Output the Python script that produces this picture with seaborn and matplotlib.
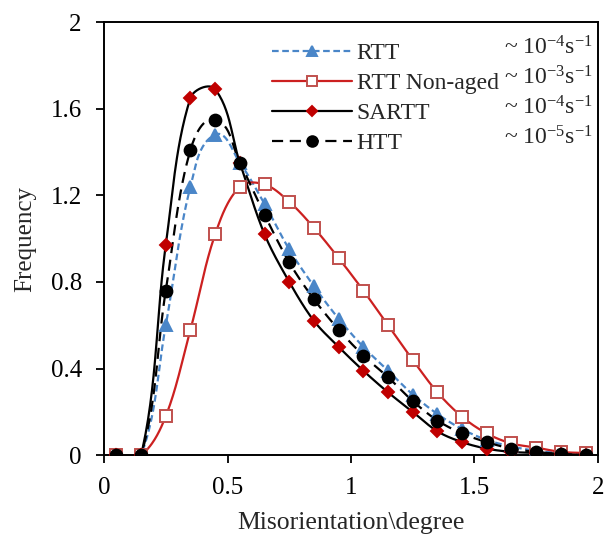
import numpy as np
import pandas as pd
import matplotlib
matplotlib.use("Agg")
import matplotlib.pyplot as plt
from matplotlib.lines import Line2D
import seaborn as sns

sns.set_theme(style="ticks")
plt.rcParams['font.family'] = ['Liberation Serif', 'DejaVu Serif']
plt.rcParams['mathtext.fontset'] = 'custom'
plt.rcParams['mathtext.rm'] = 'Liberation Serif'
plt.rcParams['mathtext.it'] = 'Liberation Serif:italic'

# ---- data ----
x = [0.05, 0.15, 0.25, 0.35, 0.45, 0.55, 0.65, 0.75, 0.85, 0.95,
     1.05, 1.15, 1.25, 1.35, 1.45, 1.55, 1.65, 1.75, 1.85, 1.95]
rtt = [0, 0, 0.60, 1.24, 1.48, 1.35, 1.16, 0.95, 0.78, 0.63,
       0.50, 0.39, 0.28, 0.19, 0.12, 0.07, 0.04, 0.02, 0.01, 0.005]
rtt_nonaged = [0, 0, 0.18, 0.58, 1.02, 1.24, 1.25, 1.17, 1.05, 0.91,
               0.76, 0.60, 0.44, 0.29, 0.177, 0.10, 0.054, 0.035, 0.015, 0.01]
sartt = [0, 0, 0.97, 1.65, 1.69, 1.35, 1.02, 0.80, 0.62, 0.50,
         0.39, 0.29, 0.20, 0.11, 0.06, 0.03, 0.015, 0.01, 0.005, 0.0]
htt = [0, 0, 0.76, 1.41, 1.55, 1.35, 1.11, 0.89, 0.72, 0.58,
       0.46, 0.36, 0.25, 0.16, 0.10, 0.06, 0.03, 0.015, 0.005, 0.0]
labels = ["RTT", "RTT Non-aged", "SARTT", "HTT"]
rates = ["-4", "-3", "-4", "-5"]
xticks = [0, 0.5, 1, 1.5, 2]
yticks = [0, 0.4, 0.8, 1.2, 1.6, 2]


def smooth(xs, ys, n=30, k=1/3, yscale=0.877):
    """Excel-like smoothed line rendering (Bezier through the data points)."""
    P = np.column_stack([np.asarray(xs, float), np.asarray(ys, float) * yscale])
    out = []
    m = len(P)
    for i in range(m - 1):
        p0, p1 = P[i], P[i + 1]
        prev = P[i - 1] if i > 0 else p0
        nxt = P[i + 2] if i + 2 < m else p1
        d0 = p1 - prev
        d1 = nxt - p0
        L = np.linalg.norm(p1 - p0)
        n0 = np.linalg.norm(d0)
        n1 = np.linalg.norm(d1)
        c0 = p0 + (d0 / n0 * L * k if n0 > 0 else 0)
        c1 = p1 - (d1 / n1 * L * k if n1 > 0 else 0)
        t = np.linspace(0, 1, n)[:, None]
        seg = ((1 - t) ** 3) * p0 + 3 * ((1 - t) ** 2) * t * c0 + 3 * (1 - t) * t ** 2 * c1 + t ** 3 * p1
        out.append(seg if i == 0 else seg[1:])
    S = np.vstack(out)
    return S[:, 0], S[:, 1] / yscale


fig = plt.figure(figsize=(6.12, 5.38), dpi=100)
ax = fig.add_axes([0.170, 0.154, 0.807, 0.805])

styles = [
    dict(y=rtt, color='#4a86c8', ls=(0, (3, 1.6)), lw=1.6, marker='^', ms=8.5,
         mfc='#4a86c8', mec='#4a86c8'),
    dict(y=rtt_nonaged, color='#cc2020', ls='-', lw=1.6, marker='s', ms=8,
         mfc='white', mec='#c0504d'),
    dict(y=sartt, color='black', ls='-', lw=1.6, marker='D', ms=6.2,
         mfc='#c00000', mec='#c00000'),
    dict(y=htt, color='black', ls=(0, (5, 3)), lw=1.6, marker='o', ms=8.5,
         mfc='black', mec='black'),
]

handles = []
for lab, st in zip(labels, styles):
    sx, sy = smooth(x, st['y'])
    df = pd.DataFrame({'x': sx, 'y': sy})
    sns.lineplot(data=df, x='x', y='y', ax=ax, color=st['color'], lw=st['lw'],
                 linestyle=st['ls'], sort=False, estimator=None)
    ax.plot(x, st['y'], ls='none', marker=st['marker'], ms=st['ms'],
            mfc=st['mfc'], mec=st['mec'], mew=1.4, zorder=3)
    handles.append(Line2D([], [], color=st['color'], lw=st['lw'], ls=st['ls'],
                          marker=st['marker'], ms=st['ms'] * 0.9, mfc=st['mfc'],
                          mec=st['mec'], mew=1.4))

ax.set_xlim(0, 2)
ax.set_ylim(0, 2)
ax.set_xticks(xticks)
ax.set_xticklabels([f"{v:g}" for v in xticks], fontsize=18)
ax.set_yticks(yticks)
ax.set_yticklabels([f"{v:g}" for v in yticks], fontsize=18)
ax.tick_params(direction='out', length=6, width=1.3, colors='black')
ax.tick_params(axis='x', pad=10)
ax.tick_params(axis='y', pad=10)
for s in ax.spines.values():
    s.set_linewidth(1.4)
    s.set_color('black')
ax.set_xlabel("Misorientation\\degree", fontsize=18.5, labelpad=9)
ax.set_ylabel("Frequency", fontsize=18, labelpad=10)

leg = ax.legend(handles, labels, loc='upper left', bbox_to_anchor=(0.32, 0.975),
                frameon=False, fontsize=17, handlelength=3.4, handletextpad=0.2,
                labelspacing=0.36, borderaxespad=0)

row_y = [0.940, 0.871, 0.801, 0.732]
for r, yy in zip(rates, row_y):
    ax.text(0.99, yy, "~ 10$^{" + r + "}$s$^{-1}$", transform=ax.transAxes,
            ha='right', va='center', fontsize=17)

fig.savefig("out.png", dpi=100)
